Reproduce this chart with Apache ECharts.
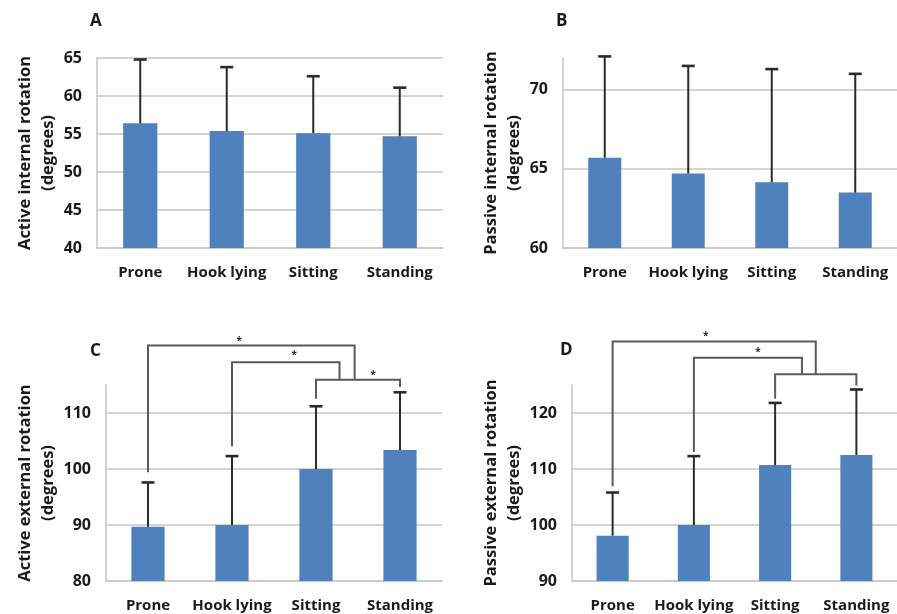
<!DOCTYPE html>
<html>
<head>
<meta charset="utf-8">
<script src="https://cdn.jsdelivr.net/npm/echarts@6/dist/echarts.min.js"></script>
<style>
html,body{margin:0;padding:0;background:#fff;}
#chart{width:897px;height:614px;}
</style>
</head>
<body>
<div id="chart"></div>
<script>
// ---------- data ----------
const categories = ['Prone', 'Hook lying', 'Sitting', 'Standing'];

const activeIRMean = [56.4, 55.4, 55.1, 54.7];
const activeIRUpper = [64.8, 63.8, 62.6, 61.1];

const passiveIRMean = [65.7, 64.7, 64.15, 63.5];
const passiveIRUpper = [72.1, 71.5, 71.3, 71.0];

const activeERMean = [89.7, 90.0, 100.0, 103.4];
const activeERUpper = [97.6, 102.3, 111.2, 113.7];

const passiveERMean = [98.1, 100.0, 110.7, 112.5];
const passiveERUpper = [105.8, 112.3, 121.8, 124.2];

// significance brackets: [leftCat, leftFoot, level, rightCat, rightFoot, starCat, starValue]
const bracketsC = [
  [0, 99.4, 122.05, 2.46, 115.94, 1.085, 122.9],
  [1, 104.0, 119.07, 2.28, 115.94, 1.74, 120.3],
  [2, 112.56, 115.94, 3, 114.63, 2.68, 116.7]
];
const bracketsD = [
  [0, 106.94, 132.76, 2.5, 126.9, 1.145, 133.7],
  [1, 113.04, 129.86, 2.33, 126.9, 1.79, 130.9],
  [2, 122.56, 126.9, 3, 124.93, null, null]
];

// y-axis settings per panel
const panelLetters = ['A', 'B', 'C', 'D'];
const axisTitles = [
  'Active internal rotation\n(degrees)',
  'Passive internal rotation\n(degrees)',
  'Active external rotation\n(degrees)',
  'Passive external rotation\n(degrees)'
];
const yMins = [40, 60, 80, 90];
const yMaxs = [65, 72, 115, 125];
const yIntervals = [5, 5, 10, 10];

// ---------- chart ----------
const FONT = '"Open Sans", "Noto Sans", sans-serif';
const TXT = '#1a1a1a';
const BAR = '#4f81bd';
const GRIDC = '#c6c6c6';

const grids = [
  {left: 97, right: 454, top: 58, bottom: 366},
  {left: 563, right: -10, top: 58, bottom: 366},
  {left: 106, right: 455, top: 385, bottom: 33},
  {left: 572, right: -11, top: 385, bottom: 33}
];

const means = [activeIRMean, passiveIRMean, activeERMean, passiveERMean];
const uppers = [activeIRUpper, passiveIRUpper, activeERUpper, passiveERUpper];

const xAxes = grids.map((g, i) => ({
  type: 'category', gridIndex: i, data: categories,
  axisLine: {show: true, lineStyle: {color: GRIDC, width: 1.5}},
  axisTick: {show: false},
  axisLabel: {color: TXT, fontFamily: FONT, fontWeight: 'bold', fontSize: 15, margin: 17, interval: 0}
}));

const yAxes = grids.map((g, i) => ({
  type: 'value', gridIndex: i, min: yMins[i], max: yMaxs[i], interval: yIntervals[i],
  name: axisTitles[i], nameLocation: 'middle', nameRotate: 90, nameGap: 37,
  nameTextStyle: {color: TXT, fontFamily: FONT, fontWeight: 'bold', fontSize: 16.5, lineHeight: 23, align: 'center'},
  axisLine: {show: true, lineStyle: {color: GRIDC, width: 1.5}},
  axisTick: {show: false},
  axisLabel: {color: TXT, fontFamily: FONT, fontWeight: 'bold', fontSize: 16, margin: 15, showMaxLabel: (yMaxs[i] - yMins[i]) % yIntervals[i] === 0},
  splitLine: {show: true, showMaxLine: (yMaxs[i] - yMins[i]) % yIntervals[i] === 0, lineStyle: {color: GRIDC, width: 1.5}}
}));

const series = [];
grids.forEach((g, i) => {
  series.push({
    type: 'bar', xAxisIndex: i, yAxisIndex: i, data: means[i],
    barWidth: '39.5%', itemStyle: {color: BAR}, silent: true, animation: false
  });
  series.push({
    type: 'custom', xAxisIndex: i, yAxisIndex: i, clip: false, silent: true, animation: false, z: 5,
    data: means[i].map((m, k) => [k, m, uppers[i][k]]),
    encode: {x: 0, y: [1, 2]},
    renderItem: function (params, api) {
      const x = api.value(0);
      const p0 = api.coord([x, api.value(1)]);
      const p1 = api.coord([x, api.value(2)]);
      const half = 6.5;
      return {
        type: 'group',
        children: [
          {type: 'line', shape: {x1: p0[0], y1: p0[1], x2: p1[0], y2: p1[1]}, style: {stroke: '#2a2a2a', lineWidth: 2}},
          {type: 'line', shape: {x1: p1[0] - half, y1: p1[1], x2: p1[0] + half, y2: p1[1]}, style: {stroke: '#2a2a2a', lineWidth: 2.6}}
        ]
      };
    }
  });
});

function bracketSeries(brackets, idx) {
  return {
    type: 'custom', xAxisIndex: idx, yAxisIndex: idx, clip: false, silent: true, animation: false, z: 6,
    data: brackets.map((b, k) => [0, yMins[idx], k]),
    encode: {x: 0, y: 1},
    renderItem: function (params, api) {
      const b = brackets[params.dataIndex];
      const base = api.coord([0, yMins[idx]]);
      const band = api.size([1, 0])[0];
      const xAt = c => base[0] + c * band;
      const yAt = v => api.coord([0, v])[1];
      const children = [{
        type: 'polyline',
        shape: {points: [[xAt(b[0]), yAt(b[1])], [xAt(b[0]), yAt(b[2])], [xAt(b[3]), yAt(b[2])], [xAt(b[3]), yAt(b[4])]]},
        style: {stroke: '#5a5a5a', lineWidth: 2, fill: null}
      }];
      if (b[5] !== null) {
        children.push({
          type: 'text', x: xAt(b[5]), y: yAt(b[6]),
          style: {text: '*', fill: '#333', font: 'bold 10px ' + FONT, align: 'center', verticalAlign: 'middle'}
        });
      }
      return {type: 'group', children: children};
    }
  };
}
series.push(bracketSeries(bracketsC, 2));
series.push(bracketSeries(bracketsD, 3));

const letterPos = [[90, 13], [556, 13], [90, 343], [560, 342]];
const titles = panelLetters.map((l, i) => ({
  text: l, left: letterPos[i][0], top: letterPos[i][1], padding: 0,
  textStyle: {color: TXT, fontFamily: FONT, fontWeight: 'bold', fontSize: 17}
}));

const chart = echarts.init(document.getElementById('chart'), null, {renderer: 'canvas'});
chart.setOption({
  backgroundColor: '#ffffff',
  animation: false,
  title: titles,
  grid: grids,
  xAxis: xAxes,
  yAxis: yAxes,
  series: series
});
</script>
</body>
</html>
